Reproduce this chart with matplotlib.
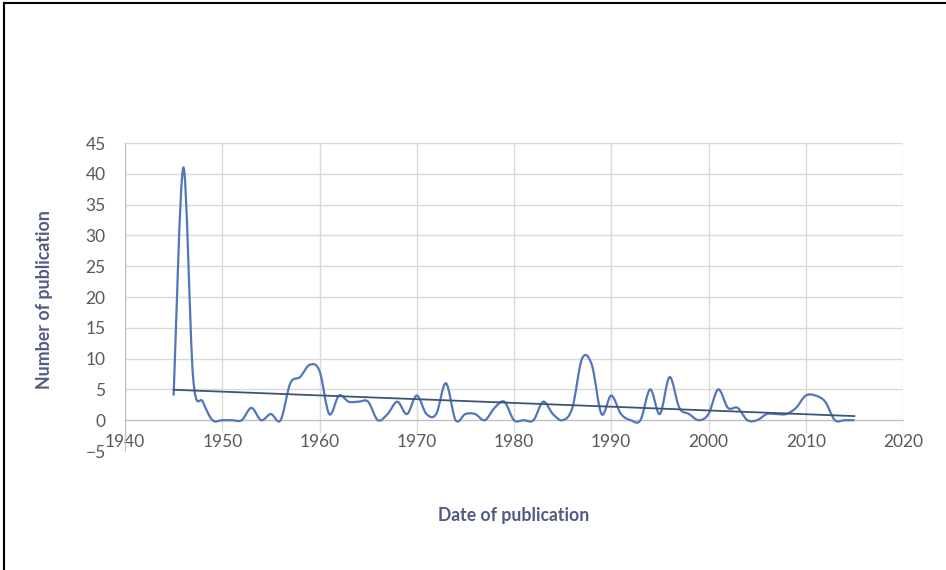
import matplotlib
matplotlib.use("Agg")
import matplotlib.pyplot as plt
import numpy as np
from matplotlib.path import Path
from matplotlib.patches import PathPatch

years = list(range(1945, 2016))
counts = [4, 41, 7, 3, 0, 0, 0, 0, 2, 0,      # 1945-1954
          1, 0, 6, 7, 9, 8, 1, 4, 3, 3,       # 1955-1964
          3, 0, 1, 3, 1, 4, 1, 1, 6, 0,       # 1965-1974
          1, 1, 0, 2, 3, 0, 0, 0, 3, 1,       # 1975-1984
          0, 2, 10, 9, 1, 4, 1, 0, 0, 5,      # 1985-1994
          1, 7, 2, 1, 0, 1, 5, 2, 2, 0,       # 1995-2004
          0, 1, 1, 1, 2, 4, 4, 3, 0, 0,       # 2005-2014
          0]                                  # 2015
xticks = [1940, 1950, 1960, 1970, 1980, 1990, 2000, 2010, 2020]
yticks = [-5, 0, 5, 10, 15, 20, 25, 30, 35, 40, 45]

plt.rcParams['font.family'] = ['Lato', 'DejaVu Sans']

fig = plt.figure(figsize=(9.46, 5.70), dpi=100)
ax = fig.add_axes([125/946, 1-451/570, 778/946, 308/570])

# smoothed line like excel (catmull-rom as bezier)
x = np.array(years, dtype=float)
y = np.array(counts, dtype=float)
px = np.concatenate([[x[0]], x, [x[-1]]])
py = np.concatenate([[y[0]], y, [y[-1]]])
verts = [(x[0], y[0])]
codes = [Path.MOVETO]
for i in range(1, len(px) - 2):
    c1 = (px[i] + (px[i+1] - px[i-1]) / 6, py[i] + (py[i+1] - py[i-1]) / 6)
    c2 = (px[i+1] - (px[i+2] - px[i]) / 6, py[i+1] - (py[i+2] - py[i]) / 6)
    verts += [c1, c2, (px[i+1], py[i+1])]
    codes += [Path.CURVE4] * 3
ax.add_patch(PathPatch(Path(verts, codes), facecolor='none', edgecolor='#5177b8', lw=1.6, zorder=3))

# linear trendline
m, b = np.polyfit(x, y, 1)
ax.plot([x[0], x[-1]], [m*x[0]+b, m*x[-1]+b], color='#3b5478', lw=1.3, zorder=4)

ax.set_xlim(1940, 2020)
ax.set_ylim(-5, 45)
ax.set_xticks(xticks)
ax.set_yticks(yticks)
ax.grid(True, color='#d9d9d9', lw=1)
ax.yaxis.get_gridlines()[0].set_visible(False)
ax.set_axisbelow(True)
for s in ['top', 'right']:
    ax.spines[s].set_visible(False)
ax.spines['bottom'].set_position(('data', 0))
ax.spines['bottom'].set_color('#bfbfbf')
ax.spines['left'].set_color('#bfbfbf')
ax.tick_params(axis='both', length=0, labelsize=12.5, labelcolor='#595959')
ax.tick_params(axis='x', pad=10)
ax.tick_params(axis='y', pad=14)
for lab in ax.get_xticklabels():
    lab.set_bbox(dict(facecolor='white', edgecolor='none', pad=0.5))

fig.text(45/946, 1-300/570, 'Number of publication', rotation=90, ha='center', va='center',
         fontsize=12.8, fontweight='bold', color='#545a82')
fig.text(514/946, 1-515/570, 'Date of publication', ha='center', va='center',
         fontsize=12.7, fontweight='bold', color='#545a82')

# frame lines on left and top
fig.add_artist(plt.Line2D([4/946, 4/946], [0, 1-3/570], color='black', lw=1.5, transform=fig.transFigure))
fig.add_artist(plt.Line2D([4/946, 1], [1-3/570, 1-3/570], color='black', lw=1.5, transform=fig.transFigure))

fig.savefig('out.png', dpi=100)
